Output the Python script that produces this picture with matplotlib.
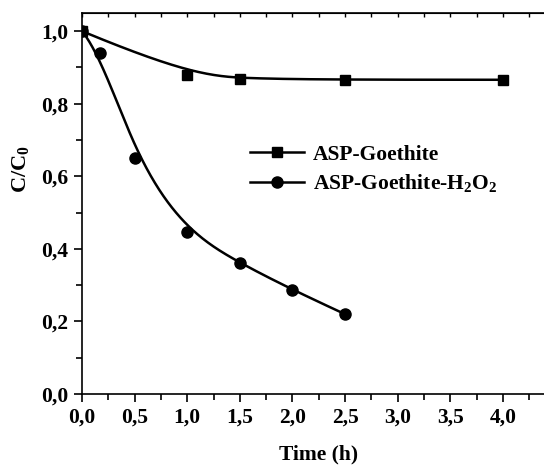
import numpy as np
import matplotlib
matplotlib.use('Agg')
import matplotlib.pyplot as plt
from matplotlib.ticker import MultipleLocator, FixedLocator, FuncFormatter

# data
time_goethite = [0.0, 1.0, 1.5, 2.5, 4.0]
c_goethite = [1.0, 0.88, 0.868, 0.866, 0.866]
time_h2o2 = [0.0, 0.17, 0.5, 1.0, 1.5, 2.0, 2.5]
c_h2o2 = [1.0, 0.94, 0.65, 0.447, 0.36, 0.287, 0.22]
x_ticks = [0.0, 0.5, 1.0, 1.5, 2.0, 2.5, 3.0, 3.5, 4.0]

plt.rcParams['font.family'] = ['Liberation Serif', 'DejaVu Serif']
plt.rcParams['font.weight'] = 'bold'
plt.rcParams['mathtext.fontset'] = 'custom'
plt.rcParams['mathtext.rm'] = 'Liberation Serif:bold'
plt.rcParams['mathtext.it'] = 'Liberation Serif:bold'
plt.rcParams['mathtext.bf'] = 'Liberation Serif:bold'


def bspline(xs, ys, k=3, n=200):
    # clamped B-spline with the data points as control points (like Origin's B-spline line)
    pts = np.column_stack([xs, ys])
    m = len(pts)
    inner = np.linspace(0, 1, m - k + 1)
    knots = np.concatenate([[0] * k, inner, [1] * k])
    t = np.linspace(0, 1, n)
    t[-1] = 1 - 1e-9

    def basis(i, p, u):
        if p == 0:
            return ((knots[i] <= u) & (u < knots[i + 1])).astype(float)
        a = 0.0
        d1 = knots[i + p] - knots[i]
        if d1 > 0:
            a = (u - knots[i]) / d1 * basis(i, p - 1, u)
        b = 0.0
        d2 = knots[i + p + 1] - knots[i + 1]
        if d2 > 0:
            b = (knots[i + p + 1] - u) / d2 * basis(i + 1, p - 1, u)
        return a + b

    B = np.array([basis(i, k, t) for i in range(m)])
    curve = B.T @ pts
    return curve[:, 0], curve[:, 1]


fig = plt.figure(figsize=(5.44, 4.68), dpi=100)
ax = fig.add_axes([0.1507, 0.1581, 0.8706, 0.8141])

for xs, ys, mk, ms, lab in [(time_goethite, c_goethite, 's', 6.5, 'ASP-Goethite'),
                            (time_h2o2, c_h2o2, 'o', 8, 'ASP-Goethite-H$_2$O$_2$')]:
    cx, cy = bspline(xs, ys)
    ax.plot(cx, cy, color='black', lw=1.8)
    ax.plot(xs, ys, ls='none', marker=mk, ms=ms, color='black')
    ax.plot([], [], color='black', lw=1.8, marker=mk, ms=ms, label=lab)

ax.set_xlim(0, 4.5)
ax.set_ylim(0, 1.05)
ax.xaxis.set_major_locator(FixedLocator(x_ticks))
ax.xaxis.set_minor_locator(MultipleLocator(0.25))
ax.yaxis.set_major_locator(MultipleLocator(0.2))
ax.yaxis.set_minor_locator(MultipleLocator(0.1))
fmt = FuncFormatter(lambda v, p: f'{v:.1f}'.replace('.', ','))
ax.xaxis.set_major_formatter(fmt)
ax.yaxis.set_major_formatter(fmt)
ax.tick_params(which='major', direction='out', length=6, width=1.2, labelsize=15.5, pad=4)
ax.tick_params(which='minor', direction='out', length=4, width=1.2)
for sp in ax.spines.values():
    sp.set_linewidth(1.2)

# top axis: short inward ticks, no labels
top = ax.secondary_xaxis('top')
top.xaxis.set_major_locator(MultipleLocator(0.25))
top.tick_params(direction='in', length=3, width=1.0, labeltop=False)

ax.set_xlabel('Time (h)', fontsize=15.5, fontweight='bold', labelpad=12)
ax.set_ylabel('C/C$_0$', fontsize=16, fontweight='bold')
ax.yaxis.set_label_coords(-0.108, 0.59)

ax.legend(loc='upper left', bbox_to_anchor=(0.336, 0.677), frameon=False,
          fontsize=15.5, handlelength=2.5, handletextpad=0.45, labelspacing=0.35,
          borderaxespad=0)

fig.savefig('out.png', dpi=100)
